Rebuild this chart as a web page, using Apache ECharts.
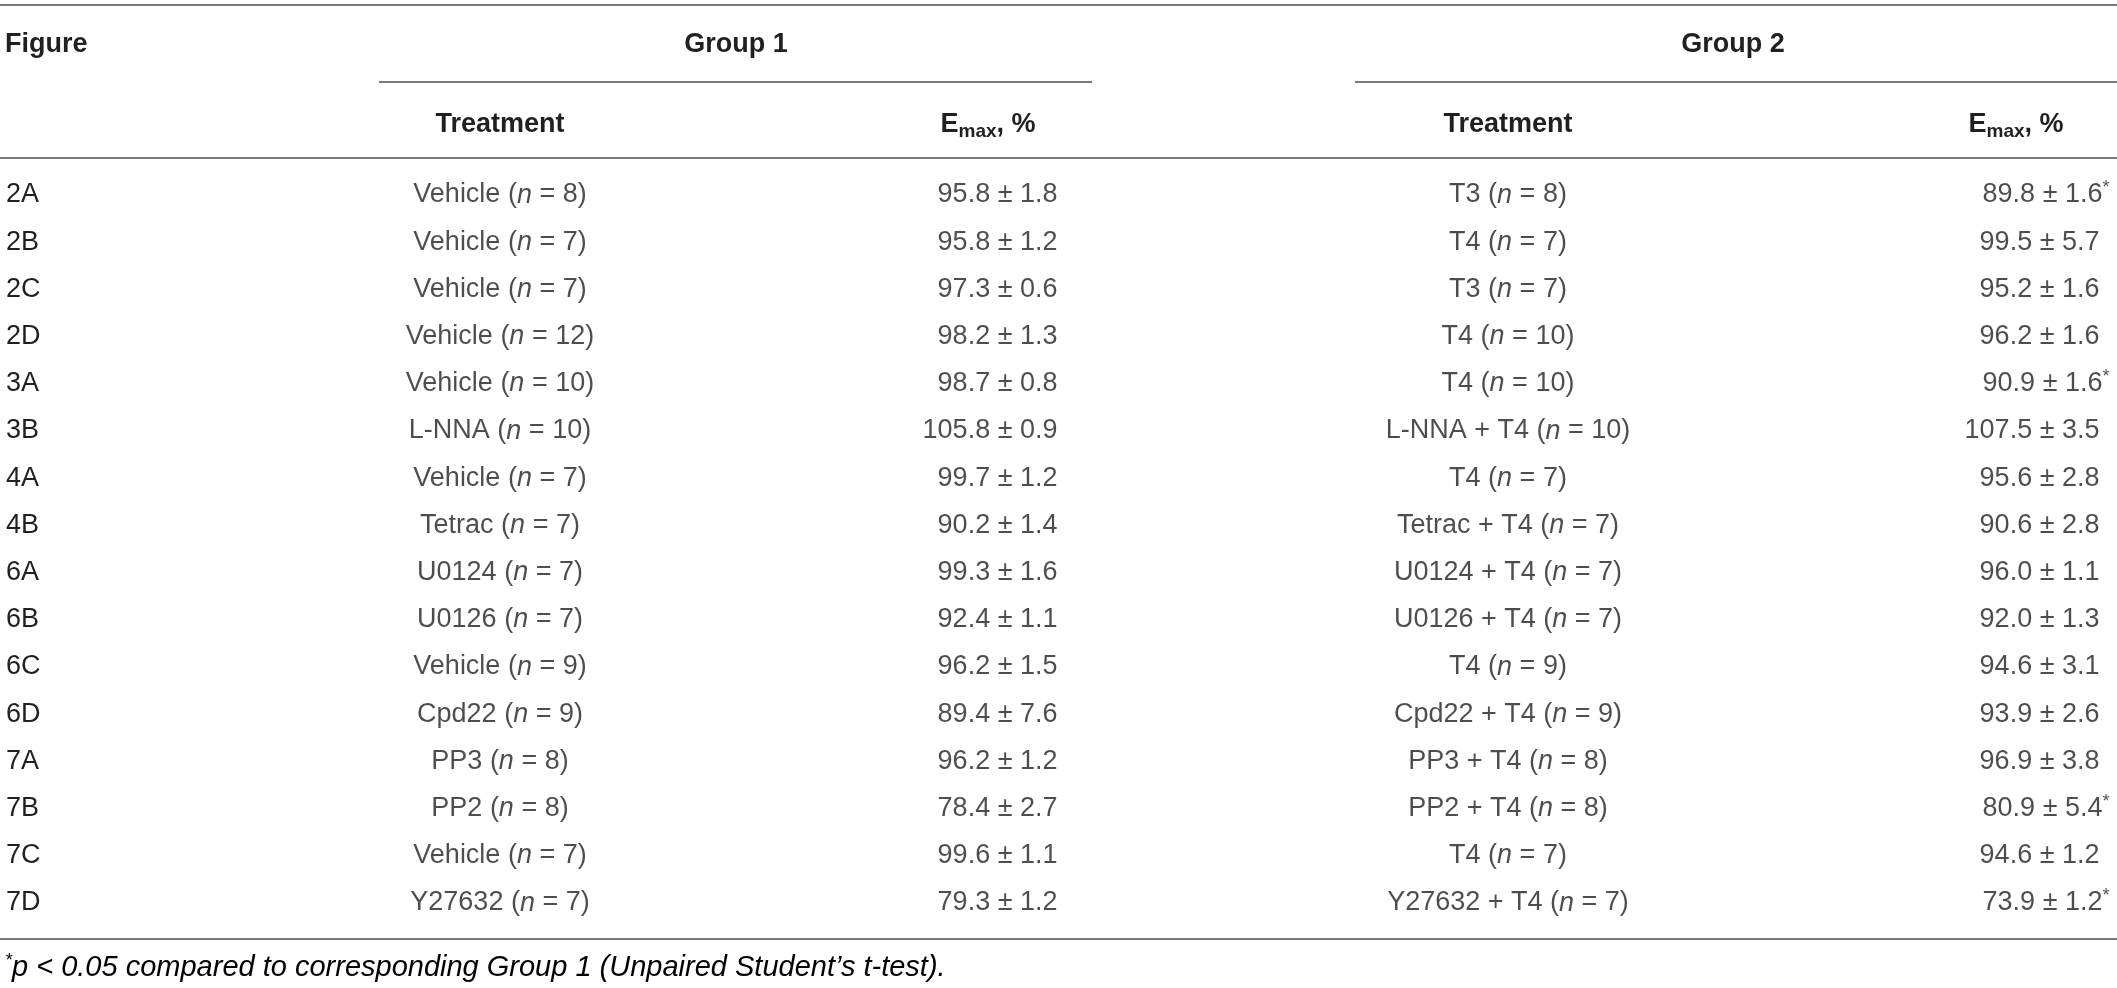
<!DOCTYPE html>
<html>
<head>
<meta charset="utf-8">
<script src="https://cdn.jsdelivr.net/npm/echarts@6.0.0/dist/echarts.min.js"></script>
<style>
  html, body { margin: 0; padding: 0; background: #fff; }
  #main { width: 2117px; height: 988px; }
</style>
</head>
<body>
<div id="main"></div>
<script>
// table rows
var figures = ['2A', '2B', '2C', '2D', '3A', '3B', '4A', '4B', '6A', '6B', '6C', '6D', '7A', '7B', '7C', '7D'];

// group 1
var g1Treatment = ['Vehicle', 'Vehicle', 'Vehicle', 'Vehicle', 'Vehicle', 'L-NNA', 'Vehicle', 'Tetrac',
  'U0124', 'U0126', 'Vehicle', 'Cpd22', 'PP3', 'PP2', 'Vehicle', 'Y27632'];
var g1N = [8, 7, 7, 12, 10, 10, 7, 7, 7, 7, 9, 9, 8, 8, 7, 7];
var g1Emax = [95.8, 95.8, 97.3, 98.2, 98.7, 105.8, 99.7, 90.2, 99.3, 92.4, 96.2, 89.4, 96.2, 78.4, 99.6, 79.3];
var g1Sem = [1.8, 1.2, 0.6, 1.3, 0.8, 0.9, 1.2, 1.4, 1.6, 1.1, 1.5, 7.6, 1.2, 2.7, 1.1, 1.2];

// group 2
var g2Treatment = ['T3', 'T4', 'T3', 'T4', 'T4', 'L-NNA + T4', 'T4', 'Tetrac + T4',
  'U0124 + T4', 'U0126 + T4', 'T4', 'Cpd22 + T4', 'PP3 + T4', 'PP2 + T4', 'T4', 'Y27632 + T4'];
var g2N = [8, 7, 7, 10, 10, 10, 7, 7, 7, 7, 9, 9, 8, 8, 7, 7];
var g2Emax = [89.8, 99.5, 95.2, 96.2, 90.9, 107.5, 95.6, 90.6, 96.0, 92.0, 94.6, 93.9, 96.9, 80.9, 94.6, 73.9];
var g2Sem = [1.6, 5.7, 1.6, 1.6, 1.6, 3.5, 2.8, 2.8, 1.1, 1.3, 3.1, 2.6, 3.8, 5.4, 1.2, 1.2];
var g2Sig = [1, 0, 0, 0, 1, 0, 0, 0, 0, 0, 0, 0, 0, 1, 0, 1]; // * p < 0.05

var FONT = 'Liberation Sans, Arial, sans-serif';
var TXT = '#231f20';
var RULE = '#7b7b7b';

var chart = echarts.init(document.getElementById('main'));

// rich text styles shared by cells
var cellRich = {
  r: { fontSize: 27, fontFamily: FONT, color: TXT, lineHeight: 32 },
  i: { fontSize: 27, fontFamily: FONT, color: TXT, fontStyle: 'italic', lineHeight: 32 },
  s: { fontSize: 18, fontFamily: FONT, color: TXT, lineHeight: 18, verticalAlign: 'top' }
};

function treatCell(name, n) {
  return '{r|' + name + ' (}{i|n}{r| = ' + n + ')}';
}
function emaxCell(m, s, sig) {
  var t = '{r|' + m.toFixed(1) + ' \u00b1 ' + s.toFixed(1) + '}';
  if (sig) t += '{s|*}';
  return t;
}

// column anchors on the hidden x axis (pixels)
var colTreat1 = 500, colEmax1 = 1058, colTreat2 = 1508, colEmax2 = 2100;

function textColumn(xPos, texts, align, starOffsets) {
  return {
    type: 'scatter',
    symbolSize: 1,
    itemStyle: { color: 'rgba(0,0,0,0)' },
    silent: true,
    data: texts.map(function (t, i) {
      var item = { value: [xPos, i], txt: t };
      if (starOffsets && starOffsets[i]) item.label = { offset: [10, 0] };
      return item;
    }),
    label: {
      show: true,
      position: align === 'right' ? 'left' : 'inside',
      distance: 0,
      formatter: function (p) { return p.data.txt; },
      rich: cellRich
    }
  };
}

var col1 = g1Treatment.map(function (t, i) { return treatCell(t, g1N[i]); });
var col2 = g1Emax.map(function (m, i) { return emaxCell(m, g1Sem[i], 0); });
var col3 = g2Treatment.map(function (t, i) { return treatCell(t, g2N[i]); });
var col4 = g2Emax.map(function (m, i) { return emaxCell(m, g2Sem[i], g2Sig[i]); });

var headRich = {
  b: { fontSize: 27, fontWeight: 'bold', fontFamily: FONT, color: TXT, lineHeight: 32 },
  m: { fontSize: 19, fontWeight: 'bold', fontFamily: FONT, color: TXT, lineHeight: 19, verticalAlign: 'bottom' }
};

function headText(x, y, text, align) {
  return {
    type: 'text', x: x, y: y, silent: true,
    style: { text: text, rich: headRich, align: align, verticalAlign: 'middle',
      font: 'bold 27px ' + FONT, fill: TXT }
  };
}
function rule(x1, x2, y) {
  return {
    type: 'line', silent: true,
    shape: { x1: x1, y1: y, x2: x2, y2: y },
    style: { stroke: RULE, lineWidth: 2 }
  };
}

var option = {
  animation: false,
  backgroundColor: '#fff',
  textStyle: { fontFamily: FONT },
  grid: { left: 0, right: 0, top: 171.4, bottom: 61.4 },
  xAxis: { type: 'value', min: 0, max: 2117, show: false },
  yAxis: {
    type: 'category',
    data: figures,
    inverse: true,
    axisLine: { show: false },
    axisTick: { show: false },
    splitLine: { show: false },
    axisLabel: { align: 'left', margin: -6, fontSize: 27, color: TXT, fontFamily: FONT }
  },
  series: [
    textColumn(colTreat1, col1, 'center'),
    textColumn(colEmax1, col2, 'right'),
    textColumn(colTreat2, col3, 'center'),
    textColumn(colEmax2, col4, 'right', g2Sig)
  ],
  graphic: [
    rule(0, 2117, 5),
    headText(5, 45, '{b|Figure}', 'left'),
    headText(736, 45, '{b|Group 1}', 'center'),
    headText(1733, 45, '{b|Group 2}', 'center'),
    rule(379, 1092, 82),
    rule(1355, 2117, 82),
    headText(500, 125, '{b|Treatment}', 'center'),
    headText(988, 125, '{b|E}{m|max}{b|, %}', 'center'),
    headText(1508, 125, '{b|Treatment}', 'center'),
    headText(2016, 125, '{b|E}{m|max}{b|, %}', 'center'),
    rule(0, 2117, 158),
    rule(0, 2117, 939),
    {
      type: 'text', x: 5, y: 968, silent: true,
      style: {
        text: '{s|*}{i|p < 0.05 compared to corresponding Group 1 (Unpaired Student\u2019s t-test).}',
        rich: {
          s: { fontSize: 18, fontStyle: 'italic', fontFamily: FONT, color: TXT, lineHeight: 18, verticalAlign: 'top' },
          i: { fontSize: 29, fontStyle: 'italic', fontFamily: FONT, color: TXT, lineHeight: 32 }
        },
        align: 'left', verticalAlign: 'middle'
      }
    }
  ]
};

chart.setOption(option);
</script>
</body>
</html>
